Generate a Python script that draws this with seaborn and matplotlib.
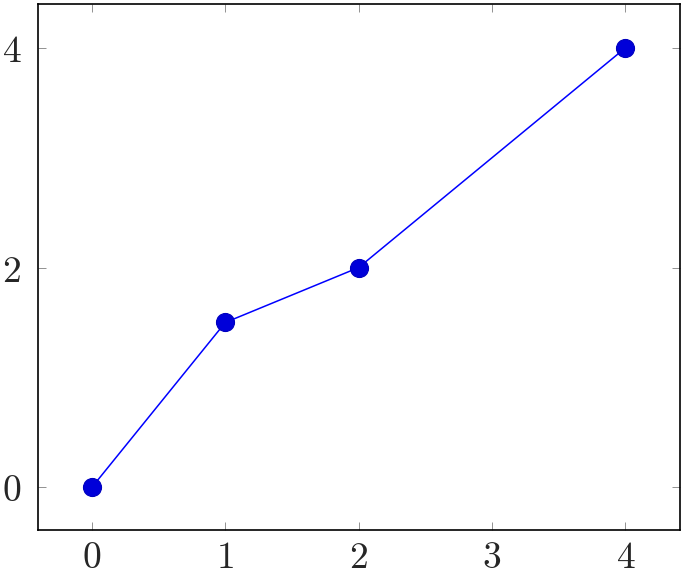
import matplotlib
matplotlib.use('Agg')
import matplotlib.pyplot as plt
import seaborn as sns
import pandas as pd

# data
x_vals = [0, 1, 2, 4]
y_vals = [0, 1.5, 2, 4]
x_ticks = [0, 1, 2, 3, 4]
y_ticks = [0, 2, 4]

df = pd.DataFrame({'x': x_vals, 'y': y_vals})

sns.set_style('ticks')
plt.rcParams['font.family'] = ['DejaVu Serif']
plt.rcParams['mathtext.fontset'] = 'cm'

fig = plt.figure(figsize=(6.84, 5.78), dpi=100)
ax = fig.add_axes([38/684, 1 - 530/578, (680-38)/684, (530-4)/578])

sns.lineplot(data=df, x='x', y='y', ax=ax, color=(0, 0, 1), linewidth=1.1,
             marker='o', markersize=13, markerfacecolor=(0, 0, 0.85),
             markeredgecolor=(0, 0, 0.75), markeredgewidth=0.8)

ax.set_xlim(-0.405, 4.41)
ax.set_ylim(-0.39, 4.4)
ax.set_xticks(x_ticks)
ax.set_yticks(y_ticks)
ax.set_xticklabels([f'${t}$' for t in x_ticks])
ax.set_yticklabels([f'${t}$' for t in y_ticks])
ax.set_xlabel('')
ax.set_ylabel('')

ax.tick_params(direction='in', length=6, width=0.6, color='#808080',
               top=True, right=True, labelsize=27)
ax.tick_params(axis='y', pad=12)
ax.tick_params(axis='x', pad=7)
for s in ax.spines.values():
    s.set_visible(True)
    s.set_linewidth(1.2)
    s.set_color('black')

fig.savefig('out.png', dpi=100)
